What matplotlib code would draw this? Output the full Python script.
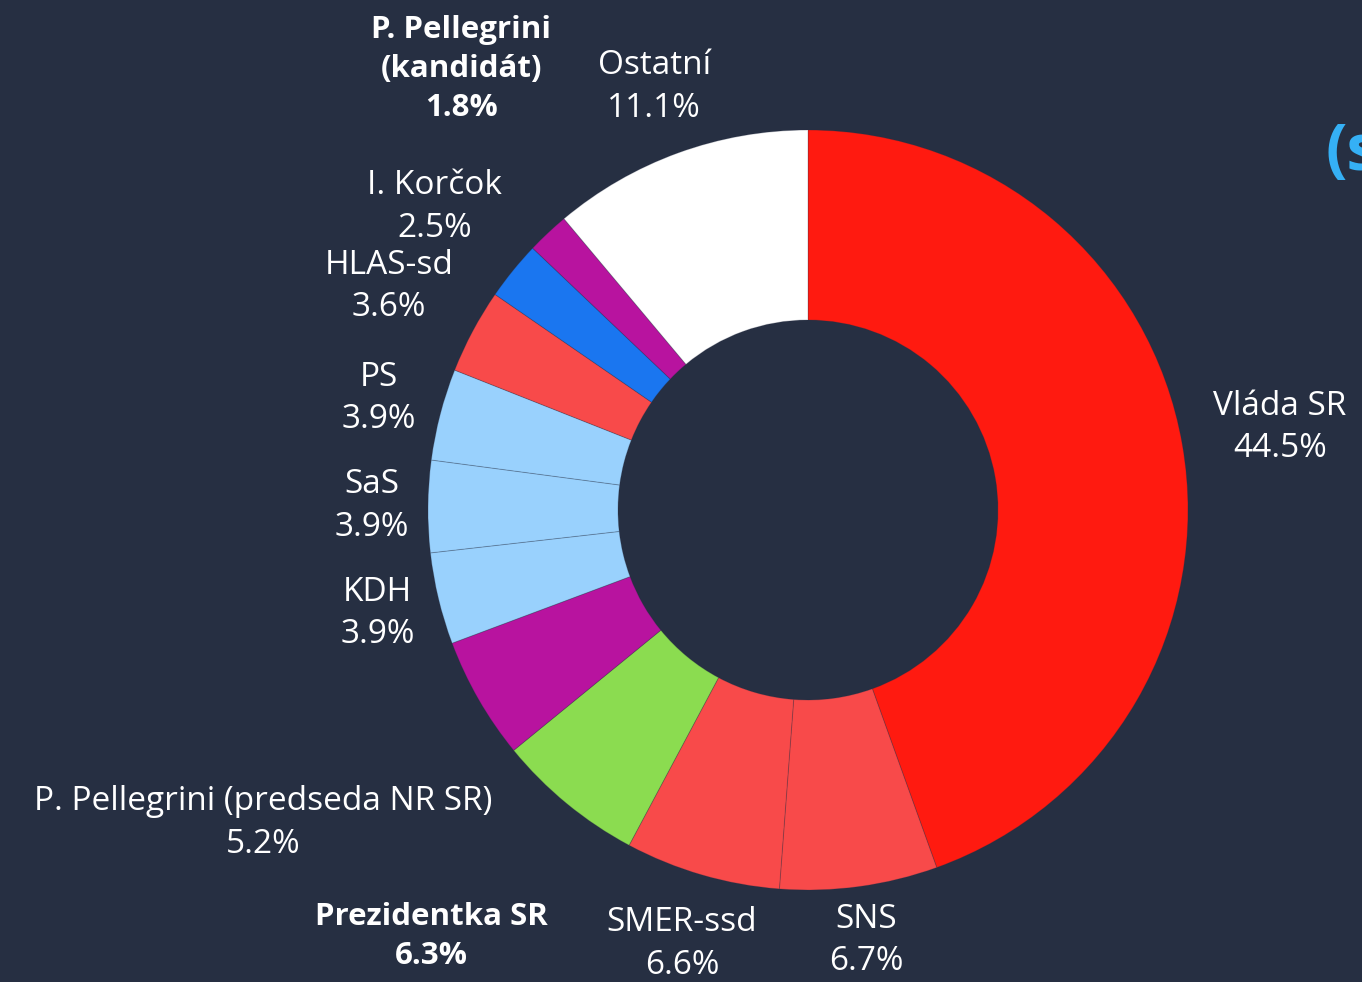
import numpy as np
import matplotlib.pyplot as plt

# data
labels = ['Vláda SR', 'SNS', 'SMER-ssd', 'Prezidentka SR', 'P. Pellegrini (predseda NR SR)',
          'KDH', 'SaS', 'PS', 'HLAS-sd', 'I. Korčok', 'P. Pellegrini\n(kandidát)', 'Ostatní']
shares = [44.5, 6.7, 6.6, 6.3, 5.2, 3.9, 3.9, 3.9, 3.6, 2.5, 1.8, 11.1]
colors = ['#ff1a10', '#f84a4a', '#f84a4a', '#8bdc50', '#b8139f', '#99d1fd',
          '#99d1fd', '#99d1fd', '#f84a4a', '#1a76f0', '#b8139f', '#ffffff']
bold = [False, False, False, True, False, False, False, False, False, False, True, False]

# label placement (radius factor, angle nudge in degrees)
label_r = [1.26, 1.143, 1.19, 1.497, 1.653, 1.165, 1.147, 1.167, 1.25, 1.266, 1.476, 1.185]
label_nudge = [0, 0, 0, -2, 0, 0, 0, 0, 0, 0, -5, 0]

bg = '#262f42'
W, H = 1362, 982
fig = plt.figure(figsize=(W / 100, H / 100), dpi=100, facecolor=bg)
ax = fig.add_axes([0, 0, 1, 1])
ax.set_facecolor(bg)

wedges, _ = ax.pie(shares, colors=colors, startangle=90, counterclock=False,
                   radius=1.0, wedgeprops=dict(width=0.5, edgecolor=(0.15, 0.18, 0.26, 0.25),
                                               linewidth=0.7))

# donut: centre at pixel (808, 510), outer radius 380 px (limits after pie, it resets them)
cx, cy, R = 808, 510, 380
ax.set_xlim(-cx / R, (W - cx) / R)
ax.set_ylim(-(H - cy) / R, cy / R)
ax.axis('off')

for w, lab, val, b, rf, nd in zip(wedges, labels, shares, bold, label_r, label_nudge):
    mid = np.deg2rad((w.theta1 + w.theta2) / 2 + nd)
    x, y = rf * np.cos(mid), rf * np.sin(mid)
    ax.text(x, y, f'{lab}\n{val}%', ha='center', va='center', color='white',
            fontsize=24 if not b else 22.5, fontweight='bold' if b else 'normal',
            family=['Open Sans', 'DejaVu Sans'], linespacing=1.38)

# partial logo at the right edge
fig.text(1326 / W, 1 - 153 / H, '(s', color='#35b0f5', fontsize=46, fontweight='bold',
         ha='left', va='center', family=['Open Sans', 'DejaVu Sans'])

fig.savefig('out.png', dpi=100, facecolor=bg)
